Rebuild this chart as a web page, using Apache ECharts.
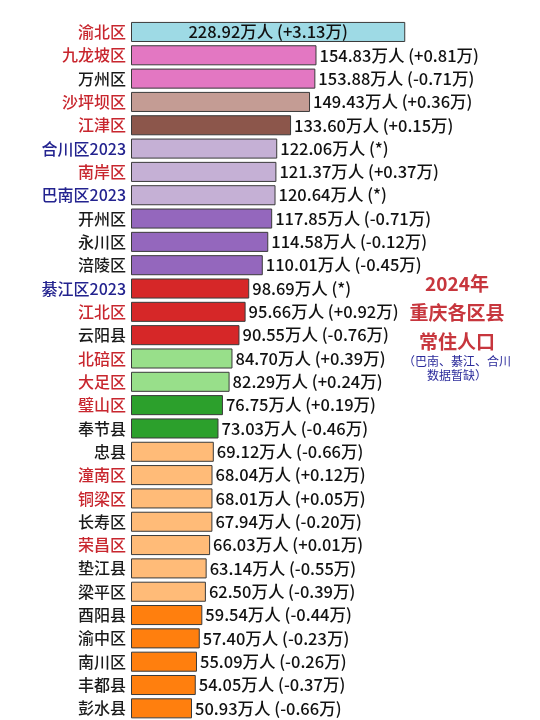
<!DOCTYPE html>
<html><head><meta charset="utf-8">
<script src="https://cdn.jsdelivr.net/npm/echarts@6/dist/echarts.min.js"></script>
<style>html,body{margin:0;padding:0;background:#fff}#c{width:540px;height:720px}</style>
</head><body><div id="c"></div>
<script>
const districts = ["渝北区","九龙坡区","万州区","沙坪坝区","江津区","合川区2023","南岸区","巴南区2023","开州区","永川区","涪陵区","綦江区2023","江北区","云阳县","北碚区","大足区","璧山区","奉节县","忠县","潼南区","铜梁区","长寿区","荣昌区","垫江县","梁平区","酉阳县","渝中区","南川区","丰都县","彭水县"];
const population = [228.92,154.83,153.88,149.43,133.60,122.06,121.37,120.64,117.85,114.58,110.01,98.69,95.66,90.55,84.70,82.29,76.75,73.03,69.12,68.04,68.01,67.94,66.03,63.14,62.50,59.54,57.40,55.09,54.05,50.93];
const changes = ["+3.13","+0.81","-0.71","+0.36","+0.15","*","+0.37","*","-0.71","-0.12","-0.45","*","+0.92","-0.76","+0.39","+0.24","+0.19","-0.46","-0.66","+0.12","+0.05","-0.20","+0.01","-0.55","-0.39","-0.44","-0.23","-0.26","-0.37","-0.66"];
const labelGroup = ["r","r","k","r","r","b","r","b","k","k","k","b","r","k","r","r","r","k","k","r","r","k","r","k","k","k","k","k","k","k"];
const barGroups = [[1,"#9edae5"],[2,"#e377c2"],[1,"#c49c94"],[1,"#8c564b"],[3,"#c5b0d5"],[3,"#9467bd"],[3,"#d62728"],[2,"#98df8a"],[2,"#2ca02c"],[7,"#ffbb78"],[5,"#ff7f0e"]];
const titleLines = ["2024年","重庆各区县","常住人口"];
const noteLines = ["（巴南、綦江、合川","数据暂缺）"];

const labelColors = {r:"#c8262e", b:"#23238f", k:"#1a1a1a"};
const barColors = [];
barGroups.forEach(([n,c]) => { for (let i=0;i<n;i++) barColors.push(c); });
const CJK = "'Noto Sans CJK SC',sans-serif";

const data = population.map((v,i) => {
  const item = {value: v, itemStyle: {color: barColors[i]}};
  if (i === 0) item.label = {position: 'inside'};
  return item;
});

const chart = echarts.init(document.getElementById('c'), null, {renderer:'canvas'});
chart.setOption({
  animation: false,
  backgroundColor: '#fff',
  grid: {left: 131, top: 20.3, width: 299.5, height: 703.5, containLabel: false},
  xAxis: {type: 'value', min: 0, max: 250, show: false},
  yAxis: {
    type: 'category', data: districts, inverse: true,
    axisLine: {show: false}, axisTick: {show: false},
    axisLabel: {
      margin: 5, fontSize: 16, fontFamily: CJK, fontWeight: 500,
      color: (val, idx) => labelColors[labelGroup[idx]]
    }
  },
  series: [{
    type: 'bar', data: data, barCategoryGap: '14%',
    itemStyle: {borderColor: '#3a3a3a', borderWidth: 1},
    label: {
      show: true, position: 'right', distance: 3, fontSize: 16.5, color: '#111',
      fontFamily: CJK, fontWeight: 500,
      formatter: p => {
        const c = changes[p.dataIndex];
        return p.value.toFixed(2) + '万人 (' + (c === '*' ? '*' : c + '万') + ')';
      }
    }
  }],
  graphic: [
    ...titleLines.map((t,i) => ({type:'text', x: 457, y: 284 + i*29, style:{text:t, fill:'#c7363d', font:"bold 19px 'Noto Sans CJK SC',sans-serif", textAlign:'center', textVerticalAlign:'middle'}})),
    ...noteLines.map((t,i) => ({type:'text', x: 457, y: 361 + i*14, style:{text:t, fill:'#2b2b9b', font:"12px 'Noto Sans CJK SC',sans-serif", textAlign:'center', textVerticalAlign:'middle'}}))
  ]
});
</script></body></html>
